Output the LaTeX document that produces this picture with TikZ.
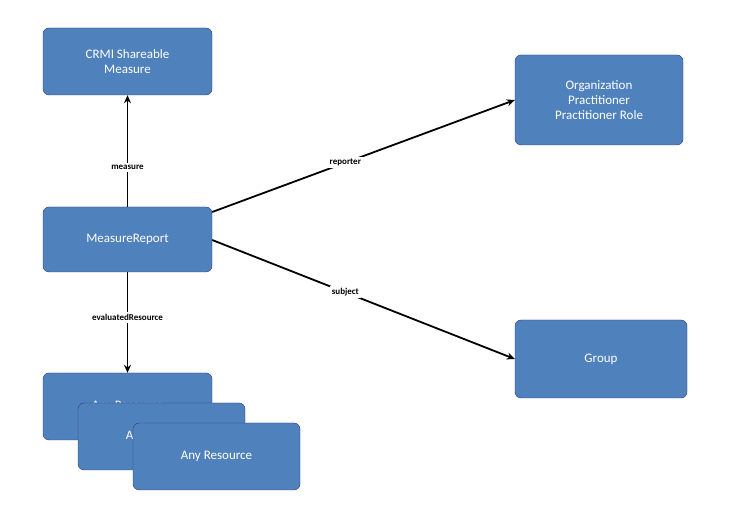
\documentclass[tikz,border=0pt]{standalone}
\usepackage{fontspec}
\setmainfont{Carlito}
\usetikzlibrary{arrows.meta}
\begin{document}
\begin{tikzpicture}[x=1pt, y=-1pt,
  box/.style={draw=blue!40!black!80, fill={rgb,255:red,79;green,129;blue,189}, rounded corners=6pt,
    text=white, font=\fontsize{13}{15}\selectfont, align=center, inner sep=0pt},
  lbl/.style={fill=white, font=\fontsize{9}{11}\selectfont\bfseries, inner sep=2pt},
  link/.style={line width=1.8pt, -{Stealth[length=8pt, width=7pt]}}]
\useasboundingbox (0,0) rectangle (737,518);

% boxes
\node[box, minimum width=169pt, minimum height=67pt] (crmi) at (127.5,61.5) {CRMI Shareable\\Measure};
\node[box, minimum width=168pt, minimum height=90pt] (org) at (599,100) {Organization\\Practitioner\\Practitioner Role};
\node[box, minimum width=169pt, minimum height=65pt] (mr) at (127.5,239.5) {MeasureReport};
\node[box, minimum width=172pt, minimum height=78pt] (grp) at (601,359) {Group};
\node[box, minimum width=169pt, minimum height=67pt] (res1) at (127.5,406.5) {Any Resource};
\node[box, minimum width=167pt, minimum height=67pt] (res2) at (161.5,436.5) {Any Resource};
\node[box, minimum width=167pt, minimum height=67pt] (res3) at (216.5,456.5) {Any Resource};

% links
\draw[link] (mr.north) -- (crmi.south) node[lbl, pos=0.35] {measure};
\draw[link] (mr.east |- 0,212) -- (org.west |- 0,100) node[lbl, pos=0.44] {reporter};
\draw[link] (mr.east |- 0,240) -- (grp.west) node[lbl, pos=0.44] {subject};
\draw[link] (mr.south) -- (res1.north) node[lbl, pos=0.45] {evaluatedResource};
\end{tikzpicture}
\end{document}
